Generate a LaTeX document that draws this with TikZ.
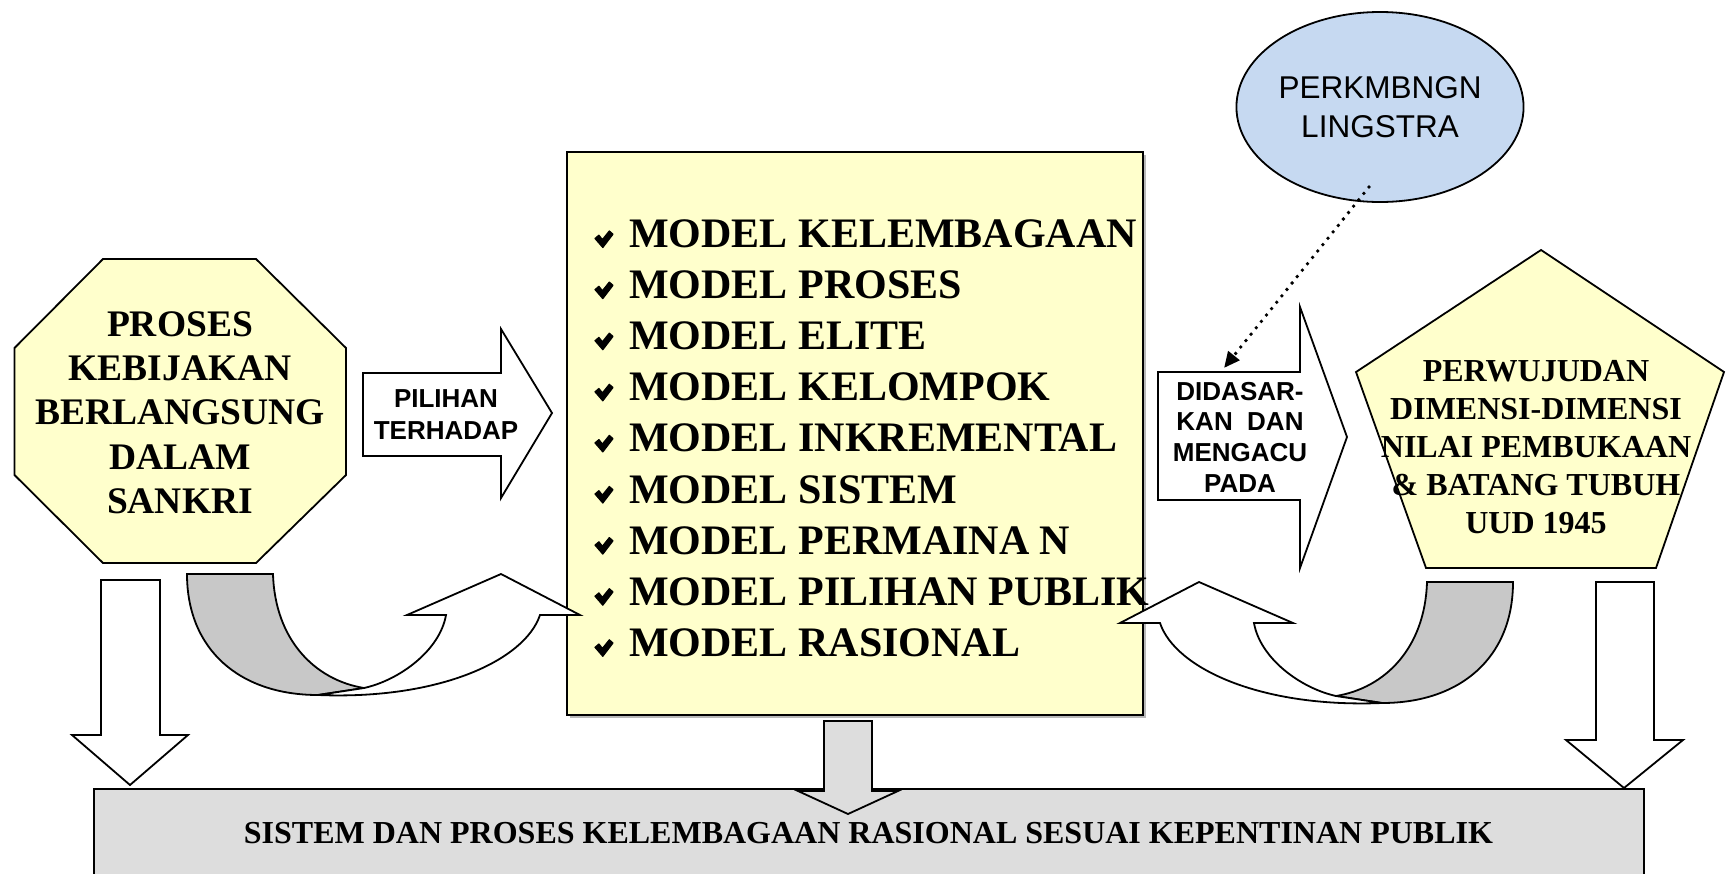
\documentclass[tikz,border=0pt]{standalone}
\usepackage{fontspec}
\setmainfont{Liberation Serif}
\newfontfamily\arialfont{Liberation Sans}
\usetikzlibrary{shapes.geometric,arrows.meta,calc}

\definecolor{paleyellow}{HTML}{FFFFCC}
\definecolor{paleblue}{HTML}{C6D9F1}
\definecolor{boxgray}{HTML}{DDDDDD}
\definecolor{ribbongray}{HTML}{C8C8C8}

\tikzset{
  outline/.style={draw=black, line width=1.8pt, line join=miter},
  % U-shaped block arrow: shaded back ribbon plus white front with head
  uturn/.pic={
    \filldraw[outline, fill=ribbongray]
      (0,0) .. controls (0,76) and (53,121) .. (131,121) -- (177,114)
      .. controls (128,106) and (88,66) .. (86,0) -- cycle;
    \filldraw[outline, fill=white]
      (177,114) .. controls (213,106) and (253,76) .. (259,41)
      -- (220,41) -- (314,0) -- (393,41) -- (353,41)
      .. controls (338,86) and (253,126) .. (131,121) -- cycle;
  },
  % bold tick used as bullet
  chkmark/.pic={
    \filldraw[line width=1.2pt, line join=round]
      (0,8.5) -- (3.9,5.2) -- (7.4,9.6) -- (14.3,1) -- (18,4.2) -- (7.8,17.5) -- cycle;
  },
  serifbig/.style={font={\fontsize{37.5pt}{44.3pt}\selectfont\bfseries}, align=center, inner sep=0pt},
  seriflist/.style={font={\fontsize{42pt}{50pt}\selectfont\bfseries}, anchor=base west, inner sep=0pt},
  serifmid/.style={font={\fontsize{32pt}{38pt}\selectfont\bfseries}, align=center, inner sep=0pt},
  sanslabel/.style={font={\arialfont\fontsize{26pt}{31.5pt}\selectfont\bfseries}, align=center, inner sep=0pt},
}

\begin{document}
\begin{tikzpicture}[x=1pt, y=-1pt]
\useasboundingbox (0,0) rectangle (1727,873);
\clip (0,0) rectangle (1727,873);

% bottom result panel
\filldraw[outline, fill=boxgray] (94,789) rectangle (1644,900);

% downward block arrows into the panel
\filldraw[outline, fill=white] (101,580) -- (160,580) -- (160,735) -- (188,735)
  -- (130,785) -- (72,735) -- (101,735) -- cycle;
\filldraw[outline, fill=white] (1596,582) -- (1654,582) -- (1654,740) -- (1683,740)
  -- (1624,788) -- (1566,740) -- (1596,740) -- cycle;

% central list panel with a slight shadow
\fill[gray!55] (570,155) rectangle (1146,718);
\filldraw[outline, fill=paleyellow] (567,152) rectangle (1143,715);

\filldraw[outline, fill=boxgray] (824,721) -- (872,721) -- (872,791) -- (898,791)
  -- (848,814) -- (798,791) -- (824,791) -- cycle;

% U-turn arrows on both sides
\pic at (187,574) {uturn};
\pic[xscale=-1] at (1513,582) {uturn};

% octagon
\filldraw[outline, fill=paleyellow] (103,259) -- (256,259) -- (346,348) -- (346,475)
  -- (256,563) -- (103,563) -- (14.5,475) -- (14.5,348) -- cycle;
\node[serifbig] (proses) at (180,412.5) {PROSES\\KEBIJAKAN\\BERLANGSUNG\\DALAM\\SANKRI};

% pentagon
\filldraw[outline, fill=paleyellow] (1541,250) -- (1724,372) -- (1656,568)
  -- (1426,568) -- (1356,372) -- cycle;
\node[serifmid] (wujud) at (1536,447.5) {PERWUJUDAN\\DIMENSI-DIMENSI\\NILAI PEMBUKAAN\\\& BATANG TUBUH\\UUD 1945};

% right-pointing block arrows
\filldraw[outline, fill=white] (363,373) -- (501,373) -- (501,329) -- (552,413)
  -- (501,498) -- (501,456) -- (363,456) -- cycle;
\node[sanslabel, font={\arialfont\fontsize{26pt}{32pt}\selectfont\bfseries}] (pilihan) at (446,415) {PILIHAN\\TERHADAP};

\filldraw[outline, fill=white] (1158,372) -- (1300,372) -- (1300,307) -- (1347,437)
  -- (1300,568) -- (1300,500) -- (1158,500) -- cycle;
\node[sanslabel, font={\arialfont\fontsize{26pt}{30.7pt}\selectfont\bfseries}] (dasar) at (1240,437) {DIDASAR-\\KAN\ \ DAN\\MENGACU\\PADA};

% ellipse
\node[ellipse, outline, fill=paleblue, minimum width=282pt, minimum height=190pt,
      inner sep=0pt, align=center,
      font={\arialfont\fontsize{31.5pt}{38.5pt}\selectfont}] (ling) at (1380,107)
      {PERKMBNGN\\LINGSTRA};

% dotted pointer from the ellipse
\coordinate (dotfrom) at ($(ling.center)+(-11,80)$);
\coordinate (dotto) at (1224,368);
\draw[line width=3.8pt, line cap=round, dash pattern=on 0pt off 8.2pt,
      -{Triangle[length=16pt,width=14pt]}] (dotfrom) -- (dotto);

% model list
\foreach \t [count=\i from 0] in {MODEL KELEMBAGAAN, MODEL PROSES, MODEL ELITE,
    MODEL KELOMPOK, MODEL INKREMENTAL, MODEL SISTEM, MODEL PERMAINA N,
    MODEL PILIHAN PUBLIK, MODEL RASIONAL} {
  \pic at (595,{230+51.1*\i}) {chkmark};
  \node[seriflist] (m\i) at (629,{247.5+51.1*\i}) {\t};
}

% panel caption
\node[font={\fontsize{32pt}{38pt}\selectfont\bfseries}, inner sep=0pt] (hasil) at (868.5,833)
  {SISTEM DAN PROSES KELEMBAGAAN RASIONAL SESUAI KEPENTINAN PUBLIK};
\end{tikzpicture}
\end{document}
